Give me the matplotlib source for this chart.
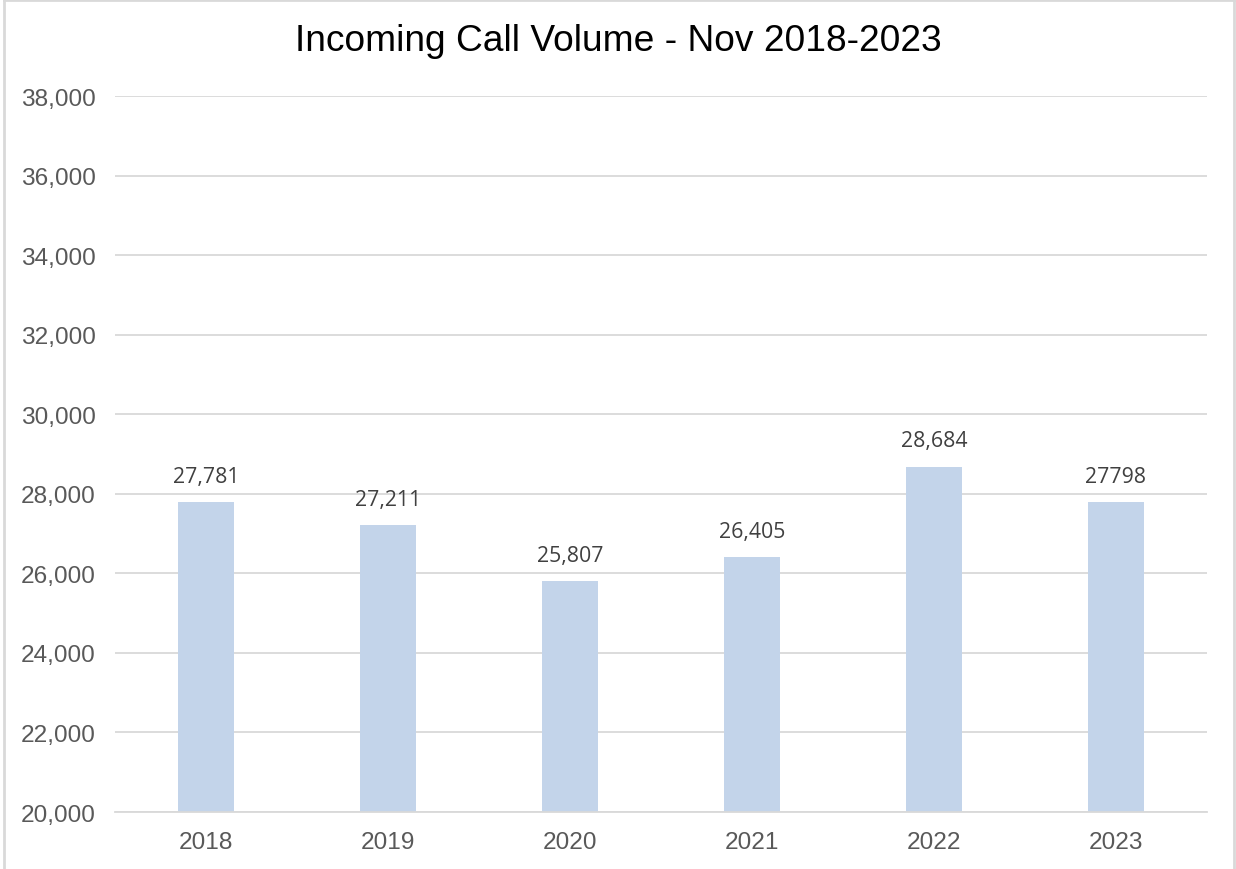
import matplotlib
matplotlib.use("Agg")
import matplotlib.pyplot as plt
from matplotlib.lines import Line2D
from matplotlib.ticker import FuncFormatter

# ─── DATA ────────────────────────────────────────────────────
years = ["2018", "2019", "2020", "2021", "2022", "2023"]
calls = [27781, 27211, 25807, 26405, 28684, 27798]
value_labels = ["27,781", "27,211", "25,807", "26,405", "28,684", "27798"]

BAR_COLOR = "#C3D4EA"
GRID_COLOR = "#D9D9D9"
TICK_COLOR = "#595959"

fig = plt.figure(figsize=(12.36, 8.7), dpi=100)
ax = fig.add_axes([0.093, 0.0655, 0.8835, 0.823])

x = range(len(years))
ax.bar(x, calls, width=0.31, color=BAR_COLOR, zorder=2)

for xi, v, lab in zip(x, calls, value_labels):
    ax.annotate(lab, (xi, v), xytext=(0, 11), textcoords="offset points",
                ha="center", va="bottom", fontsize=15.3, color="#404040",
                family=["Open Sans", "DejaVu Sans"])

ax.set_xlim(-0.5, len(years) - 0.5)
ax.set_ylim(20000, 38000)
ax.set_yticks(range(20000, 38001, 2000))
ax.yaxis.set_major_formatter(FuncFormatter(lambda v, p: f"{int(v):,}"))
ax.set_xticks(list(x))
ax.set_xticklabels(years)

ax.grid(axis="y", color=GRID_COLOR, linewidth=1.3, zorder=0)
for s in ["top", "right", "left"]:
    ax.spines[s].set_visible(False)
ax.spines["bottom"].set_color(GRID_COLOR)
ax.spines["bottom"].set_linewidth(1.3)
ax.tick_params(length=0, labelsize=17.6, labelcolor=TICK_COLOR, pad=14)
ax.tick_params(axis="y", pad=14)
for t in ax.get_xticklabels() + ax.get_yticklabels():
    t.set_family(["Liberation Sans", "DejaVu Sans"])

fig.text(0.5, 0.952, "Incoming Call Volume - Nov 2018-2023", ha="center", va="center",
         fontsize=26.7, color="black", family=["Liberation Sans", "DejaVu Sans"])

# cadre gris autour du graphique (sans le bas)
for xs, ys in [([0.003, 0.003], [0, 0.999]), ([0.003, 0.998], [0.999, 0.999]),
               ([0.998, 0.998], [0, 0.999])]:
    fig.add_artist(Line2D(xs, ys, color=GRID_COLOR, linewidth=2, transform=fig.transFigure))

fig.savefig("out.png", dpi=100)
